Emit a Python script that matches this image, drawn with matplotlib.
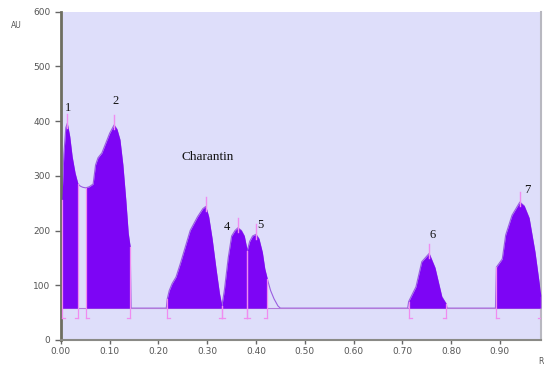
"""
HPTLC densitogram: Charantin track, peaks 1-7
"""
import numpy as np
import matplotlib
matplotlib.use('Agg')
import matplotlib.pyplot as plt

# scanned trace (Rf, AU)
rf = [0.002, 0.006, 0.010, 0.013, 0.018, 0.023, 0.029, 0.034, 0.035, 0.040,
      0.045, 0.051, 0.058, 0.066, 0.071, 0.076, 0.084, 0.092, 0.100, 0.109,
      0.115, 0.121, 0.127, 0.133, 0.138, 0.142, 0.144,
      0.216, 0.218, 0.222, 0.228, 0.236, 0.245, 0.255, 0.265, 0.280, 0.291,
      0.297, 0.303, 0.310, 0.318, 0.325, 0.330,
      0.335, 0.343, 0.350, 0.357, 0.363, 0.370, 0.376, 0.382,
      0.387, 0.393, 0.400, 0.406, 0.413, 0.418, 0.423, 0.430, 0.437, 0.445, 0.450,
      0.711, 0.713, 0.728, 0.740, 0.755, 0.767, 0.781, 0.790, 0.792,
      0.891, 0.893, 0.905, 0.912, 0.925, 0.941, 0.950, 0.960, 0.972, 0.984, 0.990]
au = [255, 340, 388, 396, 372, 335, 305, 288, 285, 281,
      279, 278, 280, 285, 320, 333, 342, 360, 378, 393,
      385, 366, 320, 256, 195, 170, 58,
      58, 75, 90, 103, 115, 140, 170, 200, 225, 240,
      244, 225, 185, 130, 85, 62,
      90, 150, 190, 200, 205, 200, 190, 163,
      180, 190, 193, 185, 160, 130, 112, 90, 75, 62, 58,
      58, 70, 97, 143, 158, 132, 79, 66, 58,
      58, 133, 148, 192, 228, 252, 245, 223, 161, 82, 60]

baseline = 58

# integration windows and apex positions
peak_start = [0.002, 0.051, 0.218, 0.330, 0.382, 0.713, 0.893]
peak_end = [0.035, 0.142, 0.330, 0.382, 0.423, 0.790, 0.985]
peak_apex = [0.013, 0.109, 0.297, 0.363, 0.400, 0.755, 0.941]

# peak labels
label_text = ['1', '2', '4', '5', '6', '7']
label_x = [0.015, 0.112, 0.341, 0.409, 0.763, 0.956]
label_y = [424, 437, 207, 210, 192, 274]

x = np.array(rf)
y = np.array(au)

fig = plt.figure(figsize=(5.44, 3.69), dpi=100)
ax = fig.add_axes([0.112, 0.079, 0.883, 0.889])
ax.set_facecolor('#dedefa')

fill_c = '#7d05f5'
mark_c = '#f08cf0'

# trace line and baseline
ax.plot(x, y, color='#9a5ee0', lw=0.8, zorder=2)
ax.axhline(baseline, color='#b27ad8', lw=0.8, zorder=2)

for s, e in zip(peak_start, peak_end):
    m = (x >= s - 1e-9) & (x <= e + 1e-9)
    ax.fill_between(x, baseline, y, where=m, color=fill_c, lw=0, zorder=3)

# boundary marks: vertical edge plus small hook below the baseline
for s, e in zip(peak_start, peak_end):
    for b, d in ((s, 1), (e, -1)):
        top = np.interp(b, x, y)
        ax.plot([b, b], [40, top], color=mark_c, lw=0.9, zorder=4)
        ax.plot([b, b + d * 0.006], [40, 40], color=mark_c, lw=0.9, zorder=4)

# apex marks
for a in peak_apex:
    top = np.interp(a, x, y)
    ax.plot([a, a], [top - 8, top + 18], color=mark_c, lw=1.0, zorder=4)

for t, lx, ly in zip(label_text, label_x, label_y):
    ax.text(lx, ly, t, fontsize=9, family='Liberation Serif',
            ha='center', va='center', color='#111111')
ax.text(0.30, 335, 'Charantin', fontsize=9.5, family='Liberation Serif',
        ha='center', va='center', color='#111111')

ax.set_xlim(0, 0.985)
ax.set_ylim(0, 600)
ax.set_xticks(np.arange(0, 0.95, 0.1))
ax.set_xticklabels([f'{v:.2f}' for v in np.arange(0, 0.95, 0.1)])
ax.set_yticks(range(0, 601, 100))
ax.tick_params(labelsize=6.5, labelcolor='#555555', color='#666666',
               length=4, width=1)
ax.tick_params(axis='x', pad=2, length=3)

for side in ('top',):
    ax.spines[side].set_visible(False)
ax.spines['left'].set_color('#6e6e60')
ax.spines['left'].set_linewidth(2)
ax.spines['bottom'].set_color('#8a8a86')
ax.spines['bottom'].set_linewidth(1.5)
ax.spines['right'].set_color('#b8b8c0')
ax.spines['right'].set_linewidth(1.5)

fig.text(16 / 544, 1 - 25 / 369, 'AU', fontsize=5.5, color='#555555',
         ha='center', va='center')
fig.text(541 / 544, 1 - 362 / 369, 'R', fontsize=5.5, color='#555555',
         ha='center', va='center')

fig.savefig('out.png', dpi=100, facecolor='white')
